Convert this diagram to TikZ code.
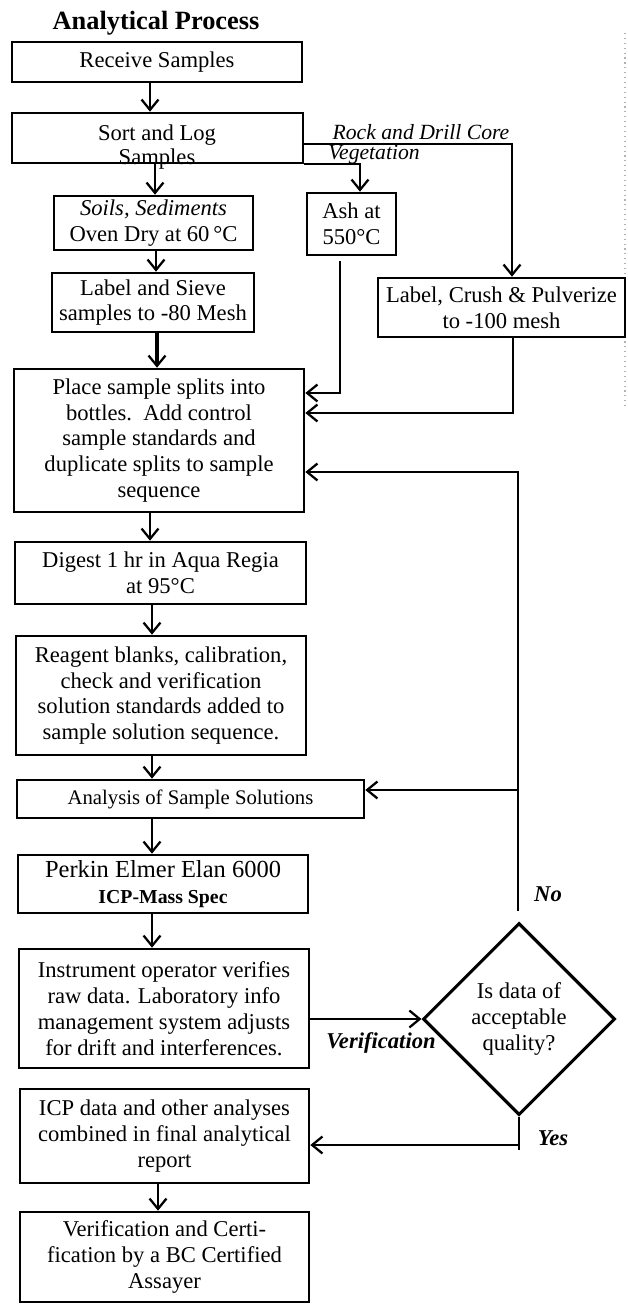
\documentclass[tikz,border=0pt]{standalone}
\usepackage{fontspec}
\setmainfont{Liberation Serif}
\usetikzlibrary{arrows.meta,shapes.geometric}
\tikzset{
  box/.style={draw,line width=1.4pt,align=center,inner sep=0pt,font=\fontsize{12}{13.7}\selectfont},
  txt/.style={align=center,inner sep=0pt,font=\fontsize{12}{13.7}\selectfont},
  conn/.style={line width=1.2pt},
  arr/.style={line width=1.2pt,-{Straight Barb[length=5.5pt,width=9pt,line width=1.2pt]}},
  lbl/.style={inner sep=0pt,font=\fontsize{11.5}{13}\selectfont\itshape},
  blbl/.style={inner sep=0pt,font=\fontsize{12}{13}\selectfont\bfseries\itshape},
  decide/.style={diamond,draw,line width=1.6pt,align=center,inner sep=0pt,aspect=1,font=\fontsize{12}{13.7}\selectfont}
}
\newcommand\mkbox[6]{\node[box,minimum width={(#4-#2)*0.531pt},minimum height={(#5-#3)*0.531pt}] (#1) at ({(#2+#4)/2},{(#3+#5)/2}) {#6};}
\begin{document}
\begin{tikzpicture}[x=0.531pt,y=-0.531pt]
\useasboundingbox (0,0) rectangle (627,1305);
% faint dotted border at right edge
\draw[gray!60,line width=0.6pt,dotted] (625,33) -- (625,410);
% title
\node[inner sep=0pt,font=\fontsize{14}{16}\selectfont\bfseries] (title) at (156,23) {Analytical Process};
% boxes
\mkbox{rec}{12}{42}{302}{82}{Receive Samples}
\mkbox{sort}{12}{113}{303}{163}{}
\node[txt,font=\fontsize{12}{12.6}\selectfont] (sorttxt) at (157,147) {Sort and Log\\Samples};
\mkbox{soil}{54}{196}{253}{250}{\textit{Soils, Sediments}\\Oven Dry at 60\,°C}
\mkbox{ash}{307}{193}{396}{255}{Ash at\\550°C}
\mkbox{sieve}{52}{273}{254}{332}{Label and Sieve\\samples to -80 Mesh}
\mkbox{crush}{378}{278}{625}{337}{Label, Crush \& Pulverize\\to -100 mesh}
\mkbox{place}{14}{369}{304}{512}{Place sample splits into\\bottles.\ \ Add control\\sample standards and\\duplicate splits to sample\\sequence}
\mkbox{digest}{15}{542}{306}{604}{Digest 1 hr in Aqua Regia\\at 95°C}
\mkbox{reagent}{16}{636}{306}{755}{Reagent blanks, calibration,\\check and verification\\solution standards added to\\sample solution sequence.}
\mkbox{analysis}{17}{780}{364}{818}{\fontsize{11}{13}\selectfont Analysis of Sample Solutions}
\mkbox{perkin}{18}{855}{308}{913}{\fontsize{13}{14.5}\selectfont Perkin Elmer Elan 6000\\\fontsize{10.5}{14.5}\selectfont\bfseries ICP-Mass Spec}
\mkbox{instr}{19}{949}{309}{1068}{Instrument operator verifies\\raw data. Laboratory info\\management system adjusts\\for drift and interferences.}
\mkbox{icp}{20}{1089}{309}{1183}{ICP data and other analyses\\combined in final analytical\\report}
\mkbox{verif}{20}{1212}{309}{1302}{Verification and Certi-\\fication by a BC Certified\\Assayer}
\node[decide,minimum width={192*0.531pt},minimum height={192*0.531pt}] (dia) at (519,1019) {Is data of\\acceptable\\quality?};
% labels
\node[lbl] (rock) at (421,132) {Rock and Drill Core};
\node[lbl] (veg) at (374,155) {Vegetation};
\node[blbl] (verlbl) at (381,1043) {Verification};
\node[blbl] (no) at (548,894) {No};
\node[blbl] (yes) at (553,1138) {Yes};
% connectors
\draw[arr] (rec.south -| 150,0) -- (sort.north -| 150,0);
\draw[arr] (sort.south -| 155,0) -- (soil.north -| 155,0);
\draw[arr] (sort.south east) -- (sort.south east -| 360,0) -- (ash.north -| 360,0);
\draw[arr] (sort.east |- 0,144) -| (crush.north -| 512,0);
\draw[arr] (soil.south -| 156,0) -- (sieve.north -| 156,0);
\draw[arr,line width=1.7pt] (sieve.south -| 157,0) -- (place.north -| 157,0);
\coordinate (ashout) at (340,261);
\draw[arr] (ashout) |- (place.east |- 0,393);
\draw[arr] (crush.south -| 513,0) |- (place.east |- 0,413);
\draw[arr] (place.south -| 150,0) -- (digest.north -| 150,0);
\draw[arr] (digest.south -| 152,0) -- (reagent.north -| 152,0);
\draw[arr] (reagent.south -| 152,0) -- (analysis.north -| 152,0);
\draw[arr] (analysis.south -| 152,0) -- (perkin.north -| 152,0);
\draw[arr] (perkin.south -| 152,0) -- (instr.north -| 152,0);
\draw[arr] (instr.east |- dia.west) -- (dia.west);
\coordinate (notop) at (518,911);
\coordinate (jA) at (518,790);
\coordinate (jP) at (518,472);
\draw[arr] (notop) -- (jA) -- (analysis.east |- jA);
\draw[arr] (jA) -- (jP) -- (place.east |- jP);
\coordinate (yend) at (dia.south |- 0,1150);
\coordinate (yj) at (dia.south |- 0,1145);
\draw[conn] (dia.south) -- (yend);
\draw[arr] (yj) -- (icp.east |- yj);
\draw[arr] (icp.south -| 158,0) -- (verif.north -| 158,0);
\end{tikzpicture}
\end{document}
